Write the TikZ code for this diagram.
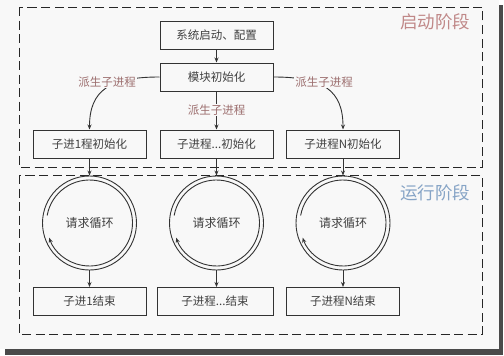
\documentclass[tikz,border=0pt]{standalone}
\usepackage{fontspec}
\newfontfamily\cjk{Noto Sans CJK SC}
\usetikzlibrary{arrows.meta}
\definecolor{panel}{HTML}{F8F8F8}
\definecolor{shadow}{HTML}{4A4A4A}
\definecolor{lbl}{HTML}{9C6E6E}
\definecolor{startc}{HTML}{C08888}
\definecolor{runc}{HTML}{86A4C6}
\definecolor{ink}{HTML}{333333}
\tikzset{
  x=1pt, y=1pt,
  stepbox/.style={draw=ink, line width=1pt, minimum width=113pt, minimum height=28pt, inner sep=0pt, font=\cjk\fontsize{11.5}{12}\selectfont, text=black!75},
  phase/.style={draw=black!85, line width=0.9pt, dash pattern=on 9pt off 4.5pt},
  arr/.style={draw=ink, line width=0.9pt, -{Stealth[length=5pt,width=4pt]}},
  conn/.style={draw=ink, line width=0.9pt},
  lab/.style={fill=panel, inner sep=1pt, text=lbl, font=\cjk\fontsize{11.5}{12}\selectfont},
  ptitle/.style={font=\cjk\fontsize{17.5}{18}\selectfont, inner sep=0pt},
  loop/.style={circle, draw=ink, line width=0.9pt, minimum size=94pt, inner sep=0pt, font=\cjk\fontsize{12}{13}\selectfont, text=black!75},
}
\begin{document}
\begin{tikzpicture}
\useasboundingbox (0,0) rectangle (504,-356);
\fill[white] (0,0) rectangle (504,-356);
\fill[shadow] (5,-5) rectangle (503,-355);
\fill[panel] (0,0) rectangle (499,-349);

% phase frames
\draw[phase] (19,-7) rectangle (482,-167);
\draw[phase] (19,-175) rectangle (482,-334);
\node[ptitle, text=startc] (tstart) at (435,-22) {启动阶段};
\node[ptitle, text=runc] (trun) at (435,-193) {运行阶段};

% top boxes
\node[stepbox] (sys) at (216.5,-35) {系统启动、配置};
\node[stepbox] (mod) at (216.5,-77) {模块初始化};

% init boxes
\node[stepbox] (i1) at (89.5,-144) {子进1程初始化};
\node[stepbox] (i2) at (216.5,-144) {子进程...初始化};
\node[stepbox] (i3) at (343,-144) {子进程N初始化};

% loops
\node[loop] (l1) at (89.5,-223) {请求循环};
\node[loop] (l2) at (216.5,-223) {请求循环};
\node[loop] (l3) at (343,-223) {请求循环};

% end boxes
\node[stepbox] (e1) at (89.5,-301.5) {子进1结束};
\node[stepbox, minimum width=116pt] (e2) at (215,-301.5) {子进程...结束};
\node[stepbox] (e3) at (343,-301.5) {子进程N结束};

% connectors
\draw[arr] (sys) -- (mod);
\draw[arr] (mod.west) .. controls (110,-77) and (89.5,-90) .. (i1.north);
\draw[arr] (mod.south) -- (i2.north);
\draw[arr] (mod.east) .. controls (323,-77) and (343,-90) .. (i3.north);
\node[lab] (d1) at (107,-82) {派生子进程};
\node[lab] (d2) at (216.5,-110) {派生子进程};
\node[lab] (d3) at (324,-82) {派生子进程};

\foreach \k in {1,2,3}{
  \draw[arr] (i\k.south) -- (l\k.north);
  \draw[arr] (l\k.south) -- (l\k.south |- e\k.north);
  \draw[arr] (l\k.center) ++(170:43) arc[start angle=170, end angle=-160, radius=43pt];
}
\end{tikzpicture}
\end{document}
